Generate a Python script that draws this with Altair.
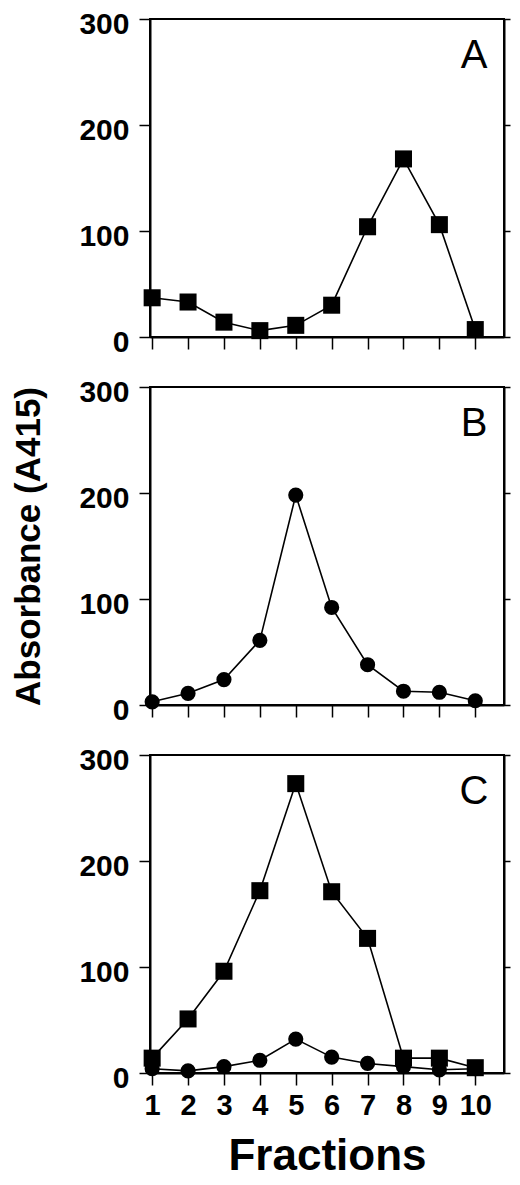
import altair as alt
import pandas as pd

fractions = [1, 2, 3, 4, 5, 6, 7, 8, 9, 10]
panel_a_squares = [37, 33, 14, 6, 11, 30, 104, 168, 106, 7]
panel_b_circles = [3, 11, 24, 61, 198, 92, 38, 13, 12, 4]
panel_c_squares = [14, 51, 96, 172, 273, 171, 127, 14, 14, 5]
panel_c_circles = [4, 2, 6, 12, 32, 15, 9, 6, 3, 4]
y_ticks = [0, 100, 200, 300]
panel_letters = ["A", "B", "C"]

FONT = "Liberation Sans"
W, H = 354, 318


def panel(series, letter, show_x_labels, y_title):
    rows = []
    for name, shape, vals in series:
        for f, v in zip(fractions, vals):
            rows.append({"fraction": f, "value": v, "series": name, "marker": shape})
    df = pd.DataFrame(rows)

    x_axis = alt.Axis(
        values=fractions, labels=show_x_labels, title="Fractions" if show_x_labels else None,
        tickSize=12, tickWidth=1.5, tickColor="black", domainColor="black", domainWidth=2,
        labelFont=FONT, labelFontSize=29, labelFontWeight="bold", labelColor="black",
        labelPadding=6, titleFont=FONT, titleFontSize=44, titleFontWeight="bold",
        titleColor="black", titlePadding=14, grid=False,
    )
    x = alt.X("fraction:Q", scale=alt.Scale(domain=[0.94, 10.8], nice=False, zero=False), axis=x_axis)
    y_scale = alt.Scale(domain=[0, 300], nice=False)

    left_kw = dict(
        values=y_ticks, tickSize=11, tickWidth=1.5, tickColor="black", domainColor="black",
        domainWidth=2, labelFont=FONT, labelFontSize=30, labelFontWeight="bold",
        labelColor="black", labelPadding=10, labelOffset=5, grid=False,
        titleFont=FONT, titleFontSize=35, titleFontWeight="bold", titleColor="black",
        titlePadding=32,
    )
    if y_title:
        left_axis = alt.Axis(title=y_title, **left_kw)
    else:
        left_axis = alt.Axis(title=None, **left_kw)
    right_axis = alt.Axis(
        orient="right", values=y_ticks, labels=False, title=None, tickSize=6, tickWidth=1.5,
        tickColor="black", domainColor="black", domainWidth=2, grid=False,
    )

    base = alt.Chart(df)
    line = base.mark_line(color="black", strokeWidth=1.6).encode(
        x=x, y=alt.Y("value:Q", scale=y_scale, axis=left_axis), detail="series:N"
    )
    pts = base.mark_point(filled=True, color="black", opacity=1).encode(
        x=x,
        y=alt.Y("value:Q", scale=y_scale, axis=right_axis),
        shape=alt.Shape("marker:N", scale=alt.Scale(domain=["square", "circle"], range=["square", "circle"]), legend=None),
        size=alt.Size("marker:N", scale=alt.Scale(domain=["square", "circle"], range=[290, 230]), legend=None),
    )
    label = alt.Chart(pd.DataFrame({"letter": [letter]})).mark_text(
        font=FONT, fontSize=40, fontWeight="normal", color="black", align="center", baseline="middle"
    ).encode(text="letter:N", x=alt.value(324), y=alt.value(37))

    return alt.layer(line, pts, label).resolve_axis(y="independent").properties(
        width=W, height=H, view=alt.ViewBackground(stroke="black", strokeWidth=2, fill="white")
    )


pa = panel([("A squares", "square", panel_a_squares)], panel_letters[0], False, None)
pb = panel([("B circles", "circle", panel_b_circles)], panel_letters[1], False, "Absorbance (A415)")
pc = panel([("C squares", "square", panel_c_squares), ("C circles", "circle", panel_c_circles)],
           panel_letters[2], True, None)

chart = alt.vconcat(pa, pb, pc, spacing=50, bounds="flush").properties(
    padding={"left": 2, "top": 0, "right": 0, "bottom": 0}, background="white"
).configure_view(stroke="black", strokeWidth=2)

chart.save("out.html", embed_options={"renderer": "svg", "actions": False})
